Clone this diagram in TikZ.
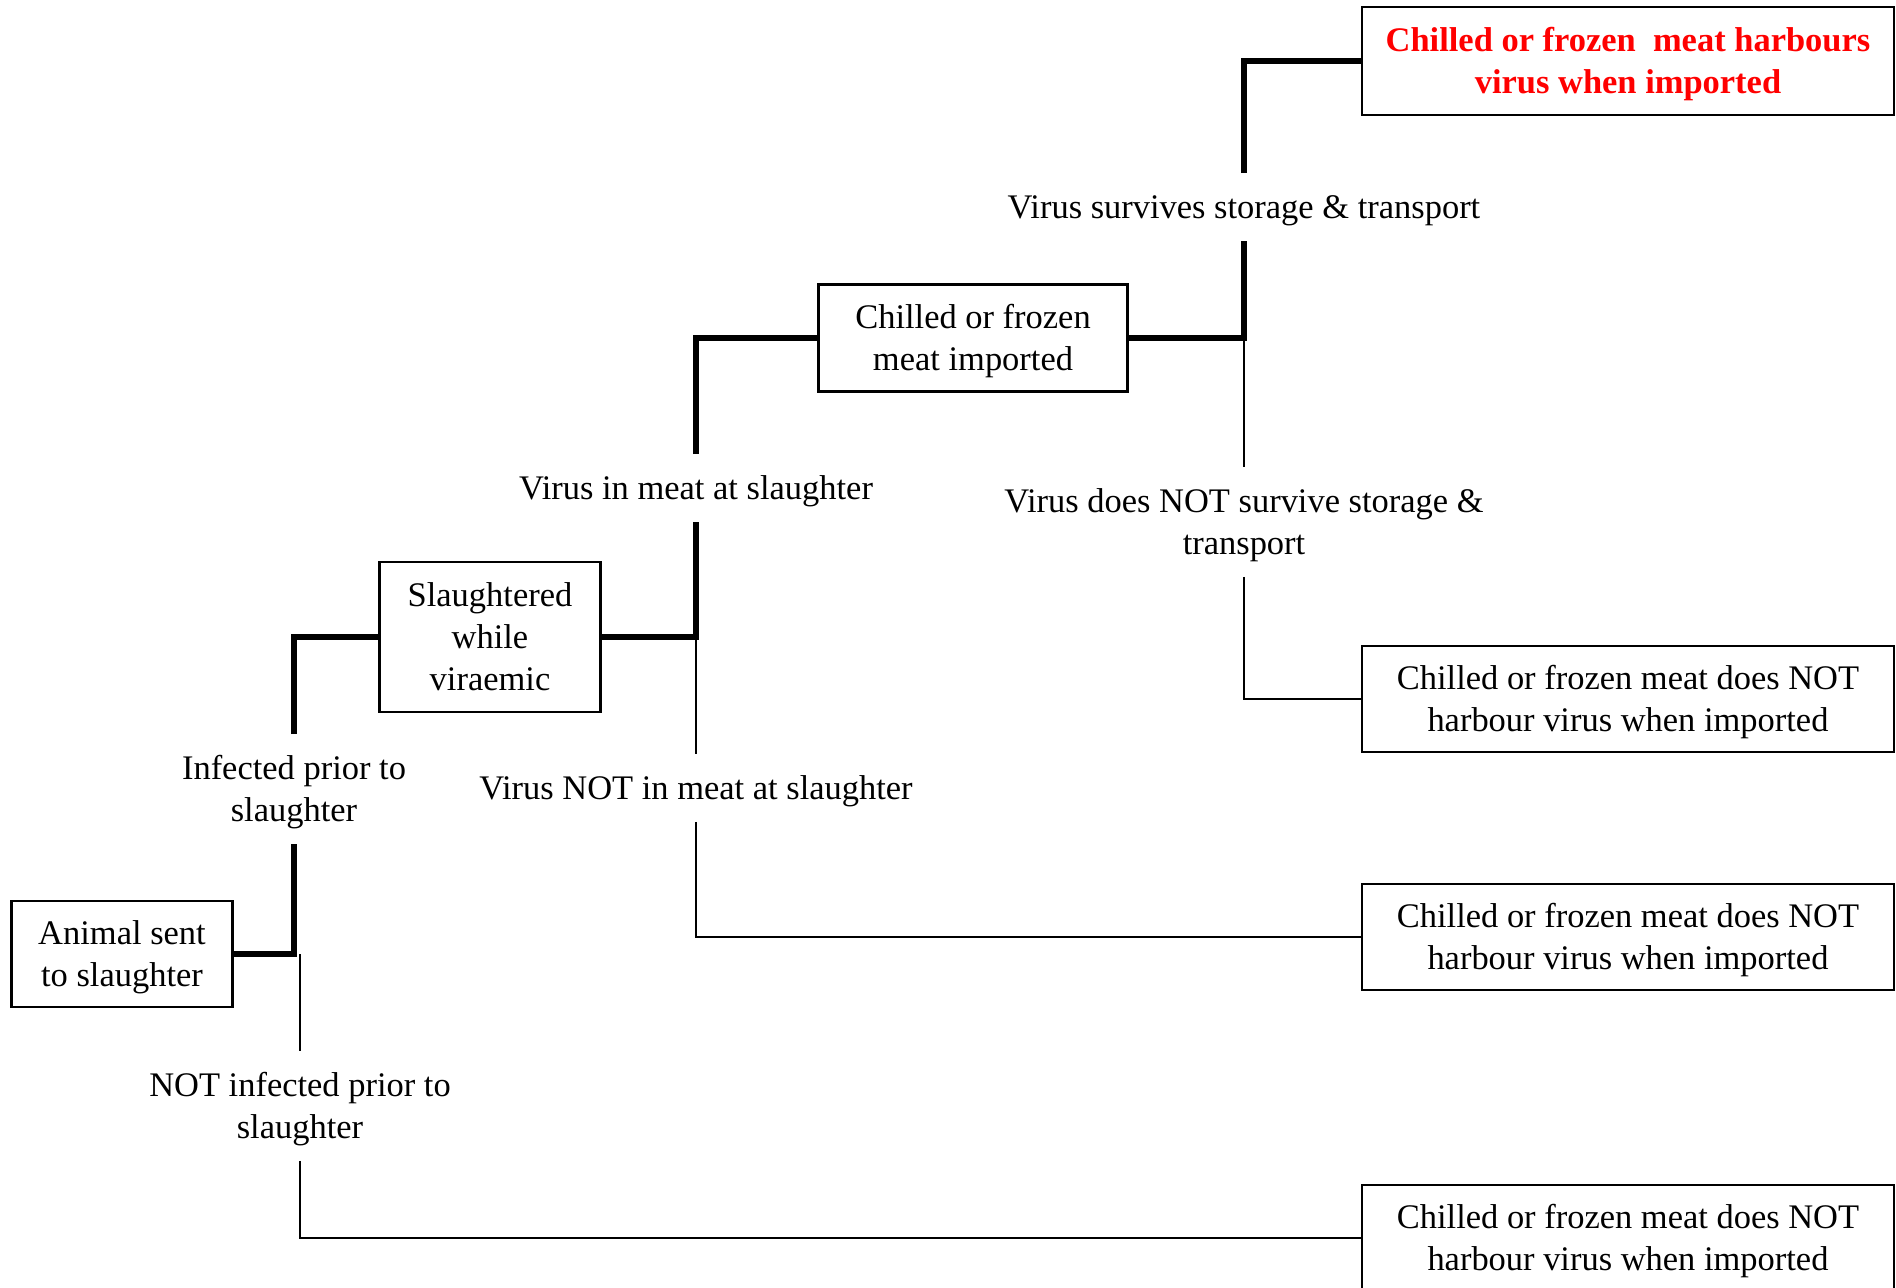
\documentclass[tikz,border=0pt]{standalone}
\usepackage{fontspec}
\setmainfont{Liberation Serif}
\usetikzlibrary{positioning}
\newcommand{\treefont}{\fontsize{9.8}{11.95}\selectfont}
\begin{document}
\begin{tikzpicture}[x=0.01cm, y=-0.01cm, font=\treefont,
  drop/.style={text height=#1, text depth=1.2pt},
  drop/.default=7.7pt,
  stage/.style={draw, line width=0.65pt, align=center, inner sep=0pt},
  outcome/.style={stage, drop=19.65pt, minimum width=5.32cm, minimum height=1.06cm},
  branch/.style={align=center, inner xsep=2pt, inner ysep=5pt},
  mainpath/.style={line width=1.7pt},
  sidepath/.style={line width=0.6pt}]

% Manually size the picture
\useasboundingbox (0,0) rectangle (1896,1287);

% Start box
\node[stage, drop=19.65pt, minimum width=2.21cm, minimum height=1.06cm] (animal) at (122,954) {Animal sent\\to slaughter};

% Intermediate boxes
\node[stage, drop=31.6pt, minimum width=2.21cm, minimum height=1.50cm] (viraemic) at (490,637) {Slaughtered\\while\\viraemic};
\node[stage, drop=19.65pt, minimum width=3.09cm, minimum height=1.07cm] (imported) at (973,338) {Chilled or frozen\\meat imported};

% Outcome boxes
\node[outcome, minimum height=1.08cm, text=red, font=\treefont\bfseries] (harbours) at (1628,61) {Chilled or frozen~ meat harbours\\virus when imported};
\node[outcome] (clean1) at (1628,699) {Chilled or frozen meat does NOT\\harbour virus when imported};
\node[outcome] (clean2) at (1628,937) {Chilled or frozen meat does NOT\\harbour virus when imported};
\node[outcome] (clean3) at (1628,1238) {Chilled or frozen meat does NOT\\harbour virus when imported};

% Branch texts
\node[branch, drop=19.65pt] (infected) at (294,789) {Infected prior to\\slaughter};
\node[branch, drop=19.65pt] (notinfected) at (300,1106) {NOT infected prior to\\slaughter};
\node[branch, drop] (inmeat) at (696,488) {Virus in meat at slaughter};
\node[branch, drop] (notinmeat) at (696,788) {Virus NOT in meat at slaughter};
\node[branch, drop] (survives) at (1244,207) {Virus survives storage \& transport};
\node[branch, drop=19.65pt] (perishes) at (1244,522) {Virus does NOT survive storage \&\\transport};

% Infected or not
\draw[mainpath] (animal.east) -| (infected.south);
\draw[mainpath] (infected.north) |- (viraemic.west);
\draw[sidepath] (notinfected.north |- animal.east) -- (notinfected.north);
\draw[sidepath] (notinfected.south) |- (clean3.west);

% Virus in meat or not
\draw[mainpath] (viraemic.east) -| (inmeat.south);
\draw[mainpath] (inmeat.north) |- (imported.west);
\draw[sidepath] (inmeat.south |- viraemic.east) -- (notinmeat.north);
\draw[sidepath] (notinmeat.south) |- (clean2.west);

% Virus survives or not
\draw[mainpath] (imported.east) -| (survives.south);
\draw[mainpath] (survives.north) |- (harbours.west);
\draw[sidepath] (survives.south |- imported.east) -- (perishes.north);
\draw[sidepath] (perishes.south) |- (clean1.west);

\end{tikzpicture}
\end{document}
